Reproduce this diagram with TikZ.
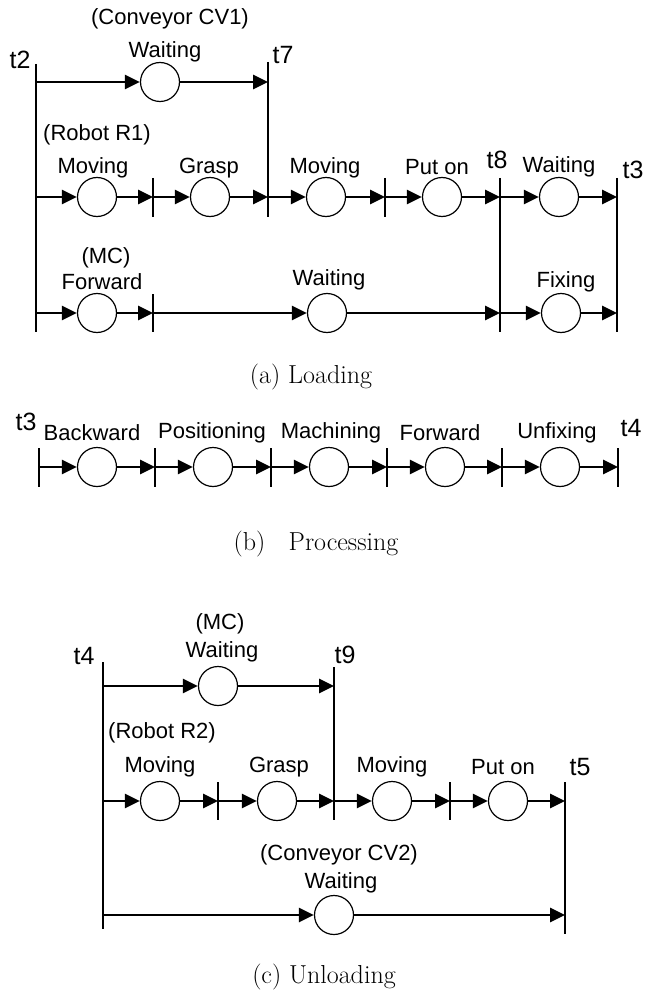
\documentclass[tikz,border=0pt]{standalone}
\usepackage{fontspec}
\setsansfont{Liberation Sans}
\usetikzlibrary{arrows.meta}
\begin{document}
\begin{tikzpicture}[x=1pt,y=-1pt,
 sta/.style={circle,draw,line width=1.2pt,minimum size=39pt,inner sep=0pt},
 flow/.style={line width=2.8pt,-{Triangle[length=15pt,width=14pt]}},
 bar/.style={line width=1.2pt},
 lbl/.style={font=\fontsize{22}{26}\selectfont\sffamily,inner sep=0pt},
 tlbl/.style={font=\fontsize{25}{29}\selectfont\sffamily,inner sep=0pt},
 captxt/.style={font=\fontsize{26}{30}\selectfont,inner sep=0pt}]
\useasboundingbox (0,0) rectangle (646,995);

% ================= (a) Loading =================
% time lines
\draw[bar] (36,64) -- (36,332);
\draw[bar] (268,62) -- (268,217);
\draw[bar] (500,178) -- (500,332);
\draw[bar] (617,178) -- (617,332);
\draw[bar] (153,178) -- (153,217);
\draw[bar] (385,178) -- (385,217);
\draw[bar] (153,294) -- (153,332);

% conveyor CV1
\coordinate (ca0) at (36,82);
\coordinate (ca1) at (268,82);
\node[sta] (cv1) at (160,82) {};
\draw[flow] (ca0) -- (cv1);
\draw[flow] (cv1) -- (ca1);

% robot R1
\coordinate (ra0) at (36,197);
\coordinate (ra1) at (153,197);
\coordinate (ra2) at (268,197);
\coordinate (ra3) at (385,197);
\coordinate (ra4) at (500,197);
\coordinate (ra5) at (617,197);
\node[sta] (r1) at (97,197) {};
\node[sta] (r2) at (210,197) {};
\node[sta] (r3) at (326,197) {};
\node[sta] (r4) at (442,197) {};
\node[sta] (r5) at (559,197) {};
\draw[flow] (ra0) -- (r1);
\draw[flow] (r1) -- (ra1);
\draw[flow] (ra1) -- (r2);
\draw[flow] (r2) -- (ra2);
\draw[flow] (ra2) -- (r3);
\draw[flow] (r3) -- (ra3);
\draw[flow] (ra3) -- (r4);
\draw[flow] (r4) -- (ra4);
\draw[flow] (ra4) -- (r5);
\draw[flow] (r5) -- (ra5);

% MC
\coordinate (ma0) at (36,313);
\coordinate (ma1) at (153,313);
\coordinate (ma2) at (500,313);
\coordinate (ma3) at (617,313);
\node[sta] (m1) at (97,313) {};
\node[sta] (m2) at (327,313) {};
\node[sta] (m3) at (561,313) {};
\draw[flow] (ma0) -- (m1);
\draw[flow] (m1) -- (ma1);
\draw[flow] (ma1) -- (m2);
\draw[flow] (m2) -- (ma2);
\draw[flow] (ma2) -- (m3);
\draw[flow] (m3) -- (ma3);

% labels (a)
\node[lbl] (la1) at (170,19) {(Conveyor CV1)};
\node[lbl] (la2) at (165,52) {Waiting};
\node[tlbl] (la3) at (20,60) {t2};
\node[tlbl] (la4) at (283,55) {t7};
\node[lbl] (la5) at (97,135) {(Robot R1)};
\node[lbl] (la6) at (93,168) {Moving};
\node[lbl] (la7) at (209,168) {Grasp};
\node[lbl] (la8) at (325,168) {Moving};
\node[lbl] (la9) at (437,167) {Put on};
\node[tlbl] (la10) at (497,160) {t8};
\node[lbl] (la11) at (559,167) {Waiting};
\node[tlbl] (la12) at (633,170) {t3};
\node[lbl] (la13) at (106,258) {(MC)};
\node[lbl] (la14) at (102,282) {Forward};
\node[lbl] (la15) at (329,280) {Waiting};
\node[lbl] (la16) at (566,282) {Fixing};
\node[captxt] (capa) at (311,377) {(a) Loading};

% ================= (b) Processing =================
\foreach \x in {39,155,271,387,502,618}
  \draw[bar] (\x,448) -- (\x,487);
\coordinate (pb0) at (39,467);
\coordinate (pb1) at (155,467);
\coordinate (pb2) at (271,467);
\coordinate (pb3) at (387,467);
\coordinate (pb4) at (502,467);
\coordinate (pb5) at (618,467);
\node[sta] (p1) at (97,467) {};
\node[sta] (p2) at (213,467) {};
\node[sta] (p3) at (329,467) {};
\node[sta] (p4) at (445,467) {};
\node[sta] (p5) at (560,467) {};
\draw[flow] (pb0) -- (p1);
\draw[flow] (p1) -- (pb1);
\draw[flow] (pb1) -- (p2);
\draw[flow] (p2) -- (pb2);
\draw[flow] (pb2) -- (p3);
\draw[flow] (p3) -- (pb3);
\draw[flow] (pb3) -- (p4);
\draw[flow] (p4) -- (pb4);
\draw[flow] (pb4) -- (p5);
\draw[flow] (p5) -- (pb5);

\node[tlbl] (lb1) at (26,422) {t3};
\node[lbl] (lb2) at (92,433) {Backward};
\node[lbl] (lb3) at (212,433) {Positioning};
\node[lbl] (lb4) at (331,433) {Machining};
\node[lbl] (lb5) at (440,433) {Forward};
\node[lbl] (lb6) at (557,433) {Unfixing};
\node[tlbl] (lb7) at (631,428) {t4};
\node[captxt] (capb) at (316,544) {(b)\hspace{0.9em}Processing};

% ================= (c) Unloading =================
\draw[bar] (103,662) -- (103,929);
\draw[bar] (334,667) -- (334,820);
\draw[bar] (218,782) -- (218,820);
\draw[bar] (450,782) -- (450,820);
\draw[bar] (565,782) -- (565,934);

% MC
\coordinate (mc0) at (103,686);
\coordinate (mc1) at (334,686);
\node[sta] (mcw) at (218,686) {};
\draw[flow] (mc0) -- (mcw);
\draw[flow] (mcw) -- (mc1);

% robot R2
\coordinate (rc0) at (103,801);
\coordinate (rc1) at (218,801);
\coordinate (rc2) at (334,801);
\coordinate (rc3) at (450,801);
\coordinate (rc4) at (565,801);
\node[sta] (s1) at (160,801) {};
\node[sta] (s2) at (277,801) {};
\node[sta] (s3) at (392,801) {};
\node[sta] (s4) at (508,801) {};
\draw[flow] (rc0) -- (s1);
\draw[flow] (s1) -- (rc1);
\draw[flow] (rc1) -- (s2);
\draw[flow] (s2) -- (rc2);
\draw[flow] (rc2) -- (s3);
\draw[flow] (s3) -- (rc3);
\draw[flow] (rc3) -- (s4);
\draw[flow] (s4) -- (rc4);

% conveyor CV2
\coordinate (cc0) at (103,915);
\coordinate (cc1) at (565,915);
\node[sta] (cv2) at (334,915) {};
\draw[flow] (cc0) -- (cv2);
\draw[flow] (cv2) -- (cc1);

% labels (c)
\node[tlbl] (lc1) at (84,656) {t4};
\node[lbl] (lc2) at (220,624) {(MC)};
\node[lbl] (lc3) at (222,652) {Waiting};
\node[tlbl] (lc4) at (345,655) {t9};
\node[lbl] (lc5) at (162,733) {(Robot R2)};
\node[lbl] (lc6) at (160,767) {Moving};
\node[lbl] (lc7) at (279,767) {Grasp};
\node[lbl] (lc8) at (392,767) {Moving};
\node[lbl] (lc9) at (503,767) {Put on};
\node[tlbl] (lc10) at (580,767) {t5};
\node[lbl] (lc11) at (339,855) {(Conveyor CV2)};
\node[lbl] (lc12) at (341,883) {Waiting};
\node[captxt] (capc) at (324,977) {(c) Unloading};
\end{tikzpicture}
\end{document}
